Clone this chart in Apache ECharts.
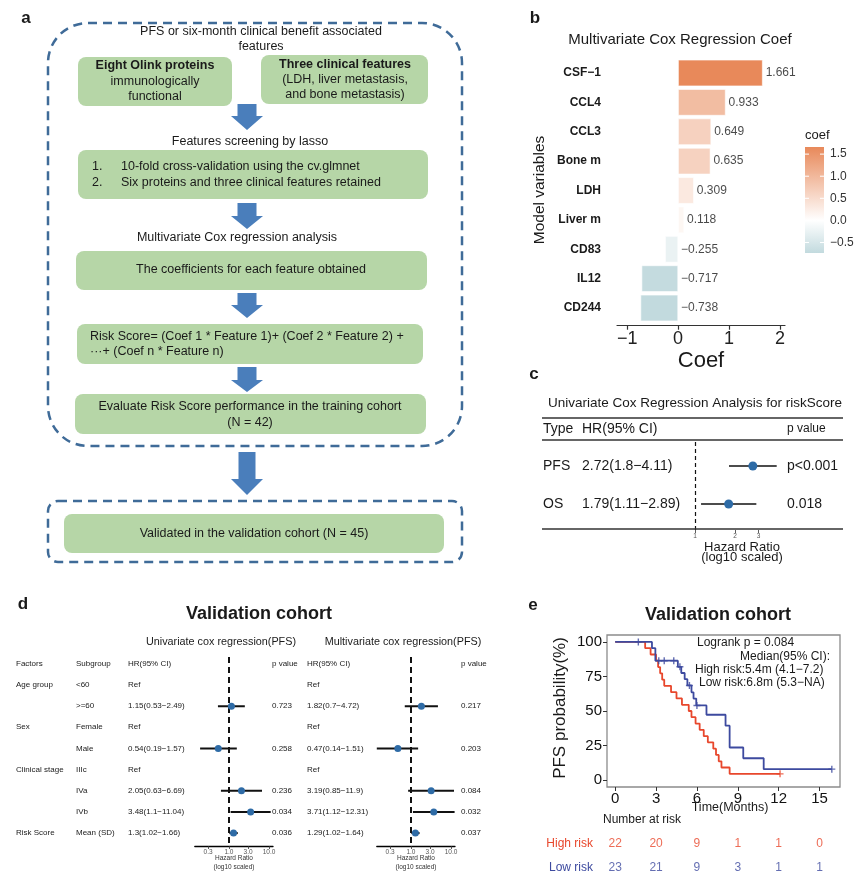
<!DOCTYPE html>
<html><head><meta charset="utf-8"><title>Figure</title>
<script src="https://cdn.jsdelivr.net/npm/echarts@6/dist/echarts.min.js"></script>
<style>html,body{margin:0;padding:0;background:#fff;}#chart{width:865px;height:890px;}</style>
</head><body><div id="chart"></div>
<script>
// ---------- Panel b: multivariate Cox coefficients ----------
const coefVars = ['CSF−1','CCL4','CCL3','Bone m','LDH','Liver m','CD83','IL12','CD244'];
const coefVals = [1.661,0.933,0.649,0.635,0.309,0.118,-0.255,-0.717,-0.738];
const coefAxisTicks = [-1,0,1,2];
const colorbarTicks = [1.5,1.0,0.5,0.0,-0.5];

// ---------- Panel c: univariate Cox for riskScore ----------
const cTypes = ['PFS','OS'];
const cHR = [2.72,1.79];
const cLo = [1.8,1.11];
const cHi = [4.11,2.89];
const cP = ['p<0.001','0.018'];
const cTicks = [1,2,3];

// ---------- Panel d: validation cohort forest ----------
const dFactors = ['Age group','','Sex','','Clinical stage','','','Risk Score'];
const dSubgroups = ['<60','>=60','Female','Male','IIIc','IVa','IVb','Mean (SD)'];
const uniHR = [null,1.15,null,0.54,null,2.05,3.48,1.3];
const uniLo = [null,0.53,null,0.19,null,0.63,1.1,1.02];
const uniHi = [null,2.49,null,1.57,null,6.69,11.04,1.66];
const uniP  = ['','0.723','','0.258','','0.236','0.034','0.036'];
const mulHR = [null,1.82,null,0.47,null,3.19,3.71,1.29];
const mulLo = [null,0.7,null,0.14,null,0.85,1.12,1.02];
const mulHi = [null,4.72,null,1.51,null,11.9,12.31,1.64];
const mulP  = ['','0.217','','0.203','','0.084','0.032','0.037'];
const dTicks = [0.3,1,3,10];

// ---------- Panel e: Kaplan-Meier ----------
const highTime = [0,2.2,2.6,3.0,3.15,3.3,3.45,3.6,4.1,4.5,4.9,5.4,5.6,5.9,6.2,6.5,6.8,7.2,7.4,7.6,7.8,8.4,12.1];
const highSurv = [100,95.5,90.9,86.4,81.8,77.3,72.7,68.2,63.6,59.1,54.5,50.0,45.5,40.9,36.4,31.8,27.3,22.7,18.2,13.6,9.1,4.5,4.5];
const lowTime  = [0,2.7,2.95,4.6,4.85,5.1,5.3,5.6,5.75,5.95,6.7,8.1,8.4,9.4,10.9,15.9];
const lowSurv  = [100,95.5,86.4,82.0,77.5,73.0,68.5,63.5,59.0,54.0,47.3,39.4,23.6,15.8,7.9,7.9];
const highCensorTime = [12.1];
const highCensorSurv = [4.5];
const lowCensorTime = [1.7,3.2,3.6,4.3,4.75,5.45,6.0,15.9];
const lowCensorSurv = [100,86.4,86.4,86.4,82.0,68.5,54.0,7.9];
const kmXTicks = [0,3,6,9,12,15];
const kmYTicks = [0,25,50,75,100];
const riskTimes = [0,3,6,9,12,15];
const highAtRisk = [22,20,9,1,1,0];
const lowAtRisk  = [23,21,9,3,1,1];

// ---------- styling helpers ----------
const FF = '"Liberation Sans", Arial, Helvetica, sans-serif';
const INK = '#1a1a1a';
const GREEN = '#b6d6a7';
const ARROW = '#4a7ebb';
const DASH = '#3f6b98';
const RED = '#e8472c';
const BLUE = '#3d4a9f';
const PT = '#2e6ba6';
const minus = v => (v < 0 ? '−' : '') + Math.abs(v);

const HI = [232,137,90], LO = [118,172,180];
const coefMax = Math.max(...coefVals), coefMin = Math.min(...coefVals);
const maxAbs = Math.max(...coefVals.map(Math.abs));
function coefColor(v){
  const t = Math.min(1, Math.abs(v)/maxAbs), c = v >= 0 ? HI : LO;
  return 'rgb(' + c.map(k => Math.round(255 + (k-255)*t)).join(',') + ')';
}

function T(x, y, text, o){
  o = o || {};
  return {type:'text', x:x, y:y, rotation:o.rot||0, silent:true, z:20,
    style:{x:0, y:0, text:text, fill:o.color||INK, fontSize:o.size||12,
      fontWeight:o.bold?'bold':'normal', fontFamily:FF,
      align:o.align||'left', verticalAlign:'middle', lineHeight:o.lh}};
}
function R(x,y,w,h,r,style){ return {type:'rect', silent:true, z:5, shape:{x:x,y:y,width:w,height:h,r:r}, style:style}; }
function L(x1,y1,x2,y2,style){ return {type:'line', silent:true, z:5, shape:{x1:x1,y1:y1,x2:x2,y2:y2}, style:style}; }
function arrow(cx, top, headY, tip, sh, hh){
  sh = sh || 9.5; hh = hh || 16;
  return {type:'polygon', silent:true, z:6, shape:{points:[[cx-sh,top],[cx+sh,top],[cx+sh,headY],[cx+hh,headY],[cx,tip],[cx-hh,headY],[cx-sh,headY]]}, style:{fill:ARROW}};
}

const g = [];
// ---------------- Panel a (flowchart) ----------------
g.push(T(26,18,'a',{bold:true,size:17,align:'center'}));
g.push(R(48,23,414,423,40,{fill:'none',stroke:DASH,lineWidth:2.5,lineDash:[9,6]}));
g.push(R(48,501,414,61,10,{fill:'none',stroke:DASH,lineWidth:2.5,lineDash:[9,6]}));
const A = 12.5;
g.push(T(261,32,'PFS or six-month clinical benefit associated',{size:A,align:'center'}));
g.push(T(261,47,'features',{size:A,align:'center'}));
g.push(R(78,57,154,49,8,{fill:GREEN}));
g.push(T(155,66,'Eight Olink proteins',{size:A,bold:true,align:'center'}));
g.push(T(155,82,'immunologically',{size:A,align:'center'}));
g.push(T(155,97,'functional',{size:A,align:'center'}));
g.push(R(261,55,167,49,8,{fill:GREEN}));
g.push(T(345,65,'Three clinical features',{size:A,bold:true,align:'center'}));
g.push(T(345,80,'(LDH, liver metastasis,',{size:A,align:'center'}));
g.push(T(345,95,'and bone metastasis)',{size:A,align:'center'}));
g.push(arrow(247,104,116,130));
g.push(T(250,142,'Features screening by lasso',{size:A,align:'center'}));
g.push(R(78,150,350,49,8,{fill:GREEN}));
g.push(T(92,167,'1.',{size:A}));
g.push(T(121,167,'10-fold cross-validation using the cv.glmnet',{size:A}));
g.push(T(92,183,'2.',{size:A}));
g.push(T(121,183,'Six proteins and three clinical features retained',{size:A}));
g.push(arrow(247,203,216,229));
g.push(T(237,238,'Multivariate Cox regression analysis',{size:A,align:'center'}));
g.push(R(76,251,351,39,8,{fill:GREEN}));
g.push(T(251,270,'The coefficients for each feature obtained',{size:A,align:'center'}));
g.push(arrow(247,293,305,318));
g.push(R(77,324,346,40,8,{fill:GREEN}));
g.push(T(90,337,'Risk Score= (Coef 1 * Feature 1)+ (Coef 2 * Feature 2) +',{size:A}));
g.push(T(90,352,'···+ (Coef n * Feature n)',{size:A}));
g.push(arrow(247,367,380,392));
g.push(R(75,394,351,40,8,{fill:GREEN}));
g.push(T(250,407,'Evaluate Risk Score performance in the training cohort',{size:A,align:'center'}));
g.push(T(250,423,'(N = 42)',{size:A,align:'center'}));
g.push(arrow(247,452,479,495,8.5,16));
g.push(R(64,514,380,39,8,{fill:GREEN}));
g.push(T(254,534,'Validated in the validation cohort (N = 45)',{size:A,align:'center'}));

// ---------------- Panel b extras ----------------
g.push(T(535,18,'b',{bold:true,size:17,align:'center'}));
g.push(T(680,40,'Multivariate Cox Regression Coef',{size:15,align:'center'}));
g.push(T(540,190,'Model variables',{size:15.5,align:'center',rot:Math.PI/2}));
g.push(T(701,361,'Coef',{size:22,align:'center'}));
// colour bar
const cbX = 805, cbY = 147, cbW = 19, cbH = 106;
const midOff = coefMax/(coefMax-coefMin);
g.push(T(805,135,'coef',{size:13}));
g.push({type:'rect', silent:true, z:5, shape:{x:cbX,y:cbY,width:cbW,height:cbH},
  style:{fill:new echarts.graphic.LinearGradient(0,0,0,1,[
    {offset:0,color:coefColor(coefMax)},
    {offset:midOff,color:'#ffffff'},
    {offset:1,color:coefColor(coefMin)}])}});
colorbarTicks.forEach(v => {
  const y = cbY + (coefMax - v)/(coefMax - coefMin)*cbH;
  g.push(T(830,y,(v<0?'−':'')+Math.abs(v).toFixed(1),{size:12,color:'#333'}));
  g.push(L(cbX,y,cbX+4,y,{stroke:'#fff',lineWidth:1}));
  g.push(L(cbX+cbW-4,y,cbX+cbW,y,{stroke:'#fff',lineWidth:1}));
});

// ---------------- Panel c extras ----------------
g.push(T(534,374,'c',{bold:true,size:17,align:'center'}));
g.push(T(695,403,'Univariate Cox Regression Analysis for riskScore',{size:13.5,align:'center'}));
[418,440,529].forEach(y => g.push(L(542,y,843,y,{stroke:'#333',lineWidth:1.4})));
g.push(T(543,429,'Type',{size:14}));
g.push(T(582,429,'HR(95% CI)',{size:14}));
g.push(T(787,429,'p value',{size:12}));
const cRowY = [466,504];
cTypes.forEach((t,i) => {
  g.push(T(543,cRowY[i],t,{size:14}));
  g.push(T(582,cRowY[i],cHR[i]+'('+cLo[i]+'−'+cHi[i]+')',{size:14}));
  g.push(T(787,cRowY[i],cP[i],{size:14}));
});
g.push(T(742,547,'Hazard Ratio',{size:13,align:'center'}));
g.push(T(742,557,'(log10 scaled)',{size:13,align:'center'}));

// ---------------- Panel d extras ----------------
g.push(T(23,604,'d',{bold:true,size:17,align:'center'}));
g.push(T(259,614,'Validation cohort',{bold:true,size:18,align:'center'}));
g.push(T(221,642,'Univariate cox regression(PFS)',{size:10.8,align:'center'}));
g.push(T(403,642,'Multivariate cox regression(PFS)',{size:10.8,align:'center'}));
const dHeadY = 663.5, dRow0 = 685, dStep = 21.14, DS = 8;
[[16,'Factors'],[76,'Subgroup'],[128,'HR(95% CI)'],[272,'p value'],[307,'HR(95% CI)'],[461,'p value']]
  .forEach(c => g.push(T(c[0],dHeadY,c[1],{size:DS})));
const hrTxt = (h,l,u) => h==null ? 'Ref' : h+'('+l+'−'+u+')';
dSubgroups.forEach((s,i) => {
  const y = dRow0 + i*dStep;
  if (dFactors[i]) g.push(T(16,y,dFactors[i],{size:DS}));
  g.push(T(76,y,s,{size:DS}));
  g.push(T(128,y,hrTxt(uniHR[i],uniLo[i],uniHi[i]),{size:DS}));
  g.push(T(307,y,hrTxt(mulHR[i],mulLo[i],mulHi[i]),{size:DS}));
  if (uniP[i]) g.push(T(272,y,uniP[i],{size:DS}));
  if (mulP[i]) g.push(T(461,y,mulP[i],{size:DS}));
});
[234,416].forEach(cx => {
  g.push(T(cx,858,'Hazard Ratio',{size:6.5,align:'center',color:'#333'}));
  g.push(T(cx,867,'(log10 scaled)',{size:6.5,align:'center',color:'#333'}));
});

// ---------------- Panel e extras ----------------
g.push(T(533,605,'e',{bold:true,size:17,align:'center'}));
g.push(T(718,615,'Validation cohort',{bold:true,size:18,align:'center'}));
g.push(T(560,708,'PFS probability(%)',{size:17,align:'center',rot:Math.PI/2}));
g.push(T(730,808,'Time(Months)',{size:12.5,align:'center'}));
g.push(T(697,643,'Logrank p = 0.084',{size:12}));
g.push(T(830,657,'Median(95% CI):',{size:12,align:'right'}));
g.push(T(695,670,'High risk:5.4m (4.1−7.2)',{size:12}));
g.push(T(699,683,'Low risk:6.8m (5.3−NA)',{size:12}));
g.push(T(603,820,'Number at risk',{size:12}));

// ---------------- axes ----------------
const hidden = {show:false};
const log10 = Math.log10;
function tickAxis(grid, lo, hi, vals, fmt, size){
  return {type:'value', gridIndex:grid, position:'bottom', min:log10(lo), max:log10(hi),
    axisLine:{show:false, onZero:false}, splitLine:hidden,
    axisTick:{show:true, length:3, customValues:vals.map(log10), lineStyle:{color:'#333',width:0.8}},
    axisLabel:{show:true, customValues:vals.map(log10), formatter:fmt, fontSize:size, color:'#555', margin:3, fontFamily:FF}};
}
function logAxis(grid, lo, hi, line){
  return {type:'log', logBase:10, gridIndex:grid, position:'bottom', min:lo, max:hi,
    axisLine: line ? {show:true, onZero:false, lineStyle:{color:'#000',width:1.3}} : {show:false, onZero:false},
    axisTick:hidden, axisLabel:hidden, splitLine:hidden};
}
const xAxes = [
  // 0 panel b
  {type:'value', gridIndex:0, min:-1.2, max:2.1, offset:3,
   axisLine:{show:true, onZero:false, lineStyle:{color:'#333',width:1.2}},
   axisTick:{show:true, length:4, customValues:coefAxisTicks, lineStyle:{color:'#333',width:1.2}},
   axisLabel:{customValues:coefAxisTicks, formatter:v=>minus(v), fontSize:18, color:'#222', margin:4, fontFamily:FF},
   splitLine:hidden},
  // 1 panel c log
  logAxis(1, 0.75, 4.6, false),
  // 2 panel c ticks
  tickAxis(1, 0.75, 4.6, cTicks, v=>String(Math.round(Math.pow(10,v))), 6.5),
  // 3 panel d left log
  logAxis(2, 0.14, 12.6, true),
  // 4 panel d left ticks
  tickAxis(2, 0.14, 12.6, dTicks, v=>Math.pow(10,v).toFixed(1), 6.5),
  // 5 panel d right log
  logAxis(3, 0.14, 12.6, true),
  // 6 panel d right ticks
  tickAxis(3, 0.14, 12.6, dTicks, v=>Math.pow(10,v).toFixed(1), 6.5),
  // 7 KM x
  {type:'value', gridIndex:4, position:'bottom', min:-0.6, max:16.5,
   axisLine:{show:false, onZero:false}, splitLine:hidden,
   axisTick:{show:true, length:4, customValues:kmXTicks, lineStyle:{color:'#333',width:1}},
   axisLabel:{customValues:kmXTicks, fontSize:15, color:'#111', margin:4, fontFamily:FF}},
  // 8 risk table x
  {type:'value', gridIndex:5, min:-0.6, max:16.5, axisLine:{show:false, onZero:false}, axisTick:hidden, axisLabel:hidden, splitLine:hidden}
];
const yAxes = [
  {type:'category', gridIndex:0, data:coefVars, inverse:true,
   axisLine:{show:false, onZero:false}, axisTick:hidden,
   axisLabel:{fontSize:12, fontWeight:'bold', color:INK, margin:16, fontFamily:FF}},
  {type:'value', gridIndex:1, inverse:true, min:-0.632, max:1.684, show:false, axisLine:{onZero:false}},
  {type:'value', gridIndex:2, inverse:true, min:-1.33, max:7.61, show:false, axisLine:{onZero:false}},
  {type:'value', gridIndex:3, inverse:true, min:-1.33, max:7.61, show:false, axisLine:{onZero:false}},
  {type:'value', gridIndex:4, position:'left', min:-5, max:105,
   axisLine:{show:false, onZero:false}, splitLine:hidden,
   axisTick:{show:true, length:4, customValues:kmYTicks, lineStyle:{color:'#333',width:1}},
   axisLabel:{customValues:kmYTicks, fontSize:15, color:'#111', margin:5, fontFamily:FF}},
  {type:'category', gridIndex:5, data:['High risk','Low risk'], inverse:true,
   axisLine:{show:false, onZero:false}, axisTick:hidden,
   axisLabel:{fontSize:12, margin:14, fontFamily:FF, color:(v)=> v==='High risk'?RED:BLUE}}
];

// ---------------- series ----------------
function ciRender(width){
  return function(params, api){
    const a = api.coord([api.value(0), api.value(2)]);
    const b = api.coord([api.value(1), api.value(2)]);
    return {type:'line', shape:{x1:a[0],y1:a[1],x2:b[0],y2:b[1]}, style:{stroke:'#111', lineWidth:width}};
  };
}
function forest(xi, yi, hr, lo, hi, size, lw, dash, dw){
  const ci = [], pts = [];
  hr.forEach((h,i) => { if (h!=null){ ci.push([lo[i],hi[i],i]); pts.push([h,i]); } });
  return [
    {type:'custom', xAxisIndex:xi, yAxisIndex:yi, data:ci, encode:{x:[0,1], y:2}, renderItem:ciRender(lw), z:3, clip:false},
    {type:'scatter', xAxisIndex:xi, yAxisIndex:yi, data:pts, symbolSize:size, itemStyle:{color:PT, opacity:1}, z:4,
     markLine:{silent:true, symbol:'none', label:{show:false}, z:2,
       lineStyle:{type:dash, color:'#111', width:dw}, data:[{xAxis:1}]}}
  ];
}
const plusPath = 'path://M4,0h2v4h4v2h-4v4h-2v-4h-4v-2h4z';
const series = [
  {type:'bar', xAxisIndex:0, yAxisIndex:0, barWidth:'90%',
   data:coefVals.map(v => ({value:v, itemStyle:{color:coefColor(v)}})),
   itemStyle:{borderColor:'#fff', borderWidth:0.6}},
  {type:'scatter', xAxisIndex:0, yAxisIndex:0, symbolSize:0,
   data:coefVals.map((v,i) => [Math.max(v,0), coefVars[i], v]),
   label:{show:true, position:'right', distance:3, formatter:p => (p.value[2]<0?'−':'')+Math.abs(p.value[2]).toFixed(3),
     fontSize:12, color:INK, fontFamily:FF}},
  ...forest(1, 1, cHR, cLo, cHi, 9, 1.5, [4,3], 1.2),
  ...forest(3, 2, uniHR, uniLo, uniHi, 7, 2, [6,4], 2),
  ...forest(5, 3, mulHR, mulLo, mulHi, 7, 2, [6,4], 2),
  {type:'line', xAxisIndex:7, yAxisIndex:4, step:'end', showSymbol:false, symbol:'none',
   data:highTime.map((t,i)=>[t,highSurv[i]]), lineStyle:{color:RED, width:1.8}, z:3},
  {type:'line', xAxisIndex:7, yAxisIndex:4, step:'end', showSymbol:false, symbol:'none',
   data:lowTime.map((t,i)=>[t,lowSurv[i]]), lineStyle:{color:BLUE, width:1.8}, z:4},
  {type:'scatter', xAxisIndex:7, yAxisIndex:4, symbol:plusPath, symbolSize:7,
   data:highCensorTime.map((t,i)=>[t,highCensorSurv[i]]), itemStyle:{color:RED}, z:5},
  {type:'scatter', xAxisIndex:7, yAxisIndex:4, symbol:plusPath, symbolSize:7,
   data:lowCensorTime.map((t,i)=>[t,lowCensorSurv[i]]), itemStyle:{color:BLUE}, z:5},
  {type:'scatter', xAxisIndex:8, yAxisIndex:5, symbolSize:0,
   data:riskTimes.map((t,i)=>[t,'High risk',highAtRisk[i]]),
   label:{show:true, position:'inside', formatter:p=>String(p.value[2]), fontSize:12, color:RED, fontFamily:FF}},
  {type:'scatter', xAxisIndex:8, yAxisIndex:5, symbolSize:0,
   data:riskTimes.map((t,i)=>[t,'Low risk',lowAtRisk[i]]),
   label:{show:true, position:'inside', formatter:p=>String(p.value[2]), fontSize:12, color:BLUE, fontFamily:FF}}
];

const option = {
  animation:false,
  backgroundColor:'#fff',
  textStyle:{fontFamily:FF},
  grid:[
    {left:617, top:58.3, width:168, height:264.4},
    {left:678.4, top:442, width:104.8, height:88},
    {left:194.8, top:657, width:78.2, height:189},
    {left:376.8, top:657, width:78.2, height:189},
    {left:607, top:635, width:233, height:152, show:true, borderColor:'#8c8c8c', borderWidth:1.3, backgroundColor:'transparent'},
    {left:607, top:832, width:233, height:48}
  ],
  xAxis:xAxes,
  yAxis:yAxes,
  series:series,
  graphic:g
};
const chart = echarts.init(document.getElementById('chart'), null, {renderer:'canvas'});
chart.setOption(option);
</script>
</body></html>
